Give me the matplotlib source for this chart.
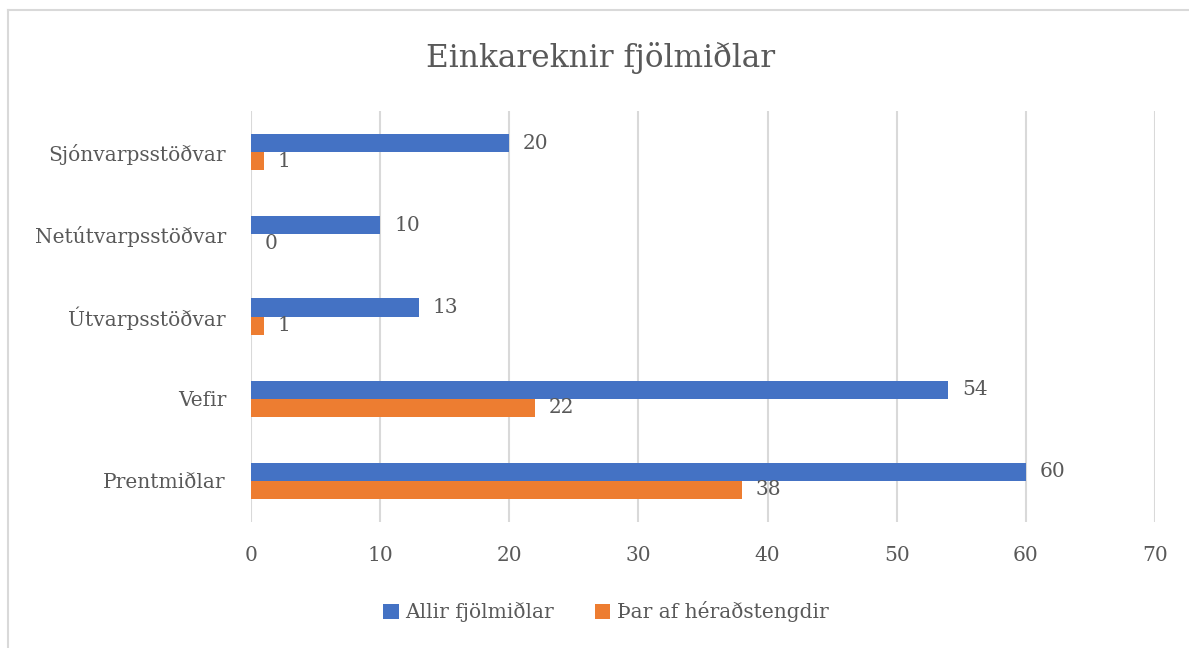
import matplotlib.pyplot as plt
import numpy as np
from matplotlib.lines import Line2D

plt.rcParams['font.family'] = ['DejaVu Serif']

categories = ['Prentmiðlar', 'Vefir', 'Útvarpsstöðvar', 'Netútvarpsstöðvar', 'Sjónvarpsstöðvar']
allir = [60, 54, 13, 10, 20]
herad = [38, 22, 1, 0, 1]
series_names = ['Allir fjölmiðlar', 'Þar af héraðstengdir']
xticks = [0, 10, 20, 30, 40, 50, 60, 70]

blue = '#4472C4'
orange = '#ED7D31'
text_col = '#595959'
grid_col = '#D9D9D9'

W, H = 1189, 648
fig = plt.figure(figsize=(W / 100, H / 100), dpi=100)
# chart border: only top and left edges fall inside the picture
fig.lines.append(Line2D([8 / W, 1], [1 - 9.5 / H] * 2, transform=fig.transFigure,
                        color=grid_col, linewidth=1.5))
fig.lines.append(Line2D([8 / W] * 2, [0, 1 - 9.5 / H], transform=fig.transFigure,
                        color=grid_col, linewidth=1.5))

ax = fig.add_axes([251 / W, 1 - 522 / H, (1155 - 251) / W, (522 - 111) / H])

y = np.arange(len(categories))
h = 0.22
b1 = ax.barh(y + h / 2, allir, height=h, color=blue, label=series_names[0], zorder=3)
b2 = ax.barh(y - h / 2, herad, height=h, color=orange, label=series_names[1], zorder=3)

for bars, vals in ((b1, allir), (b2, herad)):
    for bar, v in zip(bars, vals):
        ax.annotate(str(v), (bar.get_width(), bar.get_y() + bar.get_height() / 2),
                    xytext=(10, 0), textcoords='offset points', va='center', ha='left',
                    fontsize=14.5, color=text_col)

ax.set_xlim(0, 70)
ax.set_ylim(-0.5, len(categories) - 0.5)
ax.set_xticks(xticks)
ax.set_yticks(y)
ax.set_yticklabels(categories)
ax.tick_params(axis='both', length=0, labelsize=14.5, colors=text_col)
ax.tick_params(axis='x', pad=17)
ax.tick_params(axis='y', pad=18)
ax.grid(axis='x', color=grid_col, linewidth=1.5, zorder=0)
for s in ax.spines.values():
    s.set_visible(False)

fig.text(0.505, 1 - 58 / H, 'Einkareknir fjölmiðlar', ha='center', va='center',
         fontsize=22.5, color=text_col)

leg = fig.legend(handles=[b1, b2], labels=series_names, loc='center',
                 bbox_to_anchor=(606 / W, 1 - 612 / H), ncol=2, frameon=False,
                 fontsize=14.5, labelcolor=text_col, handlelength=0.75, handleheight=0.75,
                 handletextpad=0.35, columnspacing=2.0)

plt.savefig('out.png', dpi=100)
